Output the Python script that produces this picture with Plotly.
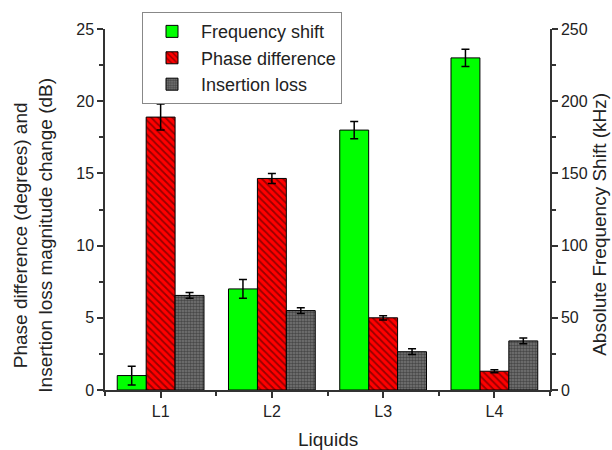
import plotly.graph_objects as go

liquids = ["L1", "L2", "L3", "L4"]
freq_shift = [10, 70, 180, 230]
freq_err = [6.5, 6.5, 6, 6]
phase_diff = [18.9, 14.65, 5.0, 1.3]
phase_err = [0.9, 0.35, 0.15, 0.1]
ins_loss = [6.55, 5.5, 2.65, 3.4]
ins_err = [0.2, 0.2, 0.2, 0.2]

xpos = [1, 2, 3, 4]
W = 0.26
font = "Liberation Sans, Arial, sans-serif"

fig = go.Figure()
fig.add_trace(go.Bar(
    x=xpos, y=freq_shift, name="Frequency shift", yaxis="y2",
    width=W, offset=-1.5 * W,
    marker=dict(color="#00ff00", line=dict(color="black", width=1)),
    error_y=dict(type="data", array=freq_err, color="black", thickness=1.5, width=4),
))
fig.add_trace(go.Bar(
    x=xpos, y=phase_diff, name="Phase difference",
    width=W, offset=-0.5 * W,
    marker=dict(color="#ff0000", line=dict(color="black", width=1),
                pattern=dict(shape="\\", fgcolor="#300000", bgcolor="#ff0000", size=5, solidity=0.35)),
    error_y=dict(type="data", array=phase_err, color="black", thickness=1.5, width=4),
))
fig.add_trace(go.Bar(
    x=xpos, y=ins_loss, name="Insertion loss",
    width=W, offset=0.5 * W,
    marker=dict(color="#555555", line=dict(color="black", width=1),
                pattern=dict(shape=".", fgcolor="#1a1a1a", bgcolor="#777777", size=3, solidity=0.55)),
    error_y=dict(type="data", array=ins_err, color="black", thickness=1.5, width=4),
))

L, R, T, B = 105, 550, 25, 390  # plot area in pixels
def px(x):
    return (x - L) / (R - L)
def py(y):
    return (B - y) / (B - T)

fig.update_layout(
    width=612, height=450,
    margin=dict(l=L, r=612 - R, t=T, b=450 - B),
    plot_bgcolor="white", paper_bgcolor="white",
    font=dict(family=font, size=16, color="#222"),
    barmode="overlay",
    showlegend=True,
    legend=dict(x=px(142), y=py(8), xanchor="left", yanchor="top",
                bordercolor="#888", borderwidth=1, bgcolor="white",
                font=dict(size=18, family=font), tracegroupgap=0,
                itemwidth=48),
    xaxis=dict(
        range=[0.5, 4.5], tickvals=xpos, ticktext=liquids, automargin=False,
        showline=True, linecolor="#333", linewidth=1.5,
        ticks="outside", ticklen=6, tickcolor="#333", tickwidth=1.5,
        minor=dict(tickvals=[0.5, 1.5, 2.5, 3.5, 4.5], ticks="outside", ticklen=4, tickcolor="#333"),
        showgrid=False, zeroline=False,
        tickfont=dict(size=16),
    ),
    yaxis=dict(
        range=[0, 25], tickvals=[0, 5, 10, 15, 20, 25], automargin=False,
        showline=True, linecolor="#333", linewidth=1.5,
        ticks="outside", ticklen=6, tickcolor="#333", tickwidth=1.5,
        minor=dict(dtick=2.5, ticks="outside", ticklen=4, tickcolor="#333"),
        showgrid=False, zeroline=False,
        tickfont=dict(size=16),
    ),
    yaxis2=dict(
        range=[0, 250], tickvals=[0, 50, 100, 150, 200, 250], automargin=False,
        overlaying="y", side="right",
        showline=True, linecolor="#333", linewidth=1.5,
        ticks="outside", ticklen=6, tickcolor="#333", tickwidth=1.5,
        minor=dict(dtick=25, ticks="outside", ticklen=4, tickcolor="#333"),
        showgrid=False, zeroline=False,
        tickfont=dict(size=16),
    ),
    annotations=[
        dict(text="Phase difference (degrees) and<br>Insertion loss magnitude change (dB)",
             xref="paper", yref="paper", x=px(33), y=py(234),
             xanchor="center", yanchor="middle", textangle=-90, showarrow=False,
             font=dict(size=19, family=font, color="#222")),
        dict(text="Absolute Frequency Shift (kHz)",
             xref="paper", yref="paper", x=px(600), y=py(223),
             xanchor="center", yanchor="middle", textangle=-90, showarrow=False,
             font=dict(size=19, family=font, color="#222")),
        dict(text="Liquids",
             xref="paper", yref="paper", x=0.5, y=py(440),
             xanchor="center", yanchor="middle", showarrow=False,
             font=dict(size=19, family=font, color="#222")),
    ],
)

fig.write_html("out.html", config={"displayModeBar": False},
               post_script="document.body.style.margin='0';document.body.style.overflow='hidden';")
